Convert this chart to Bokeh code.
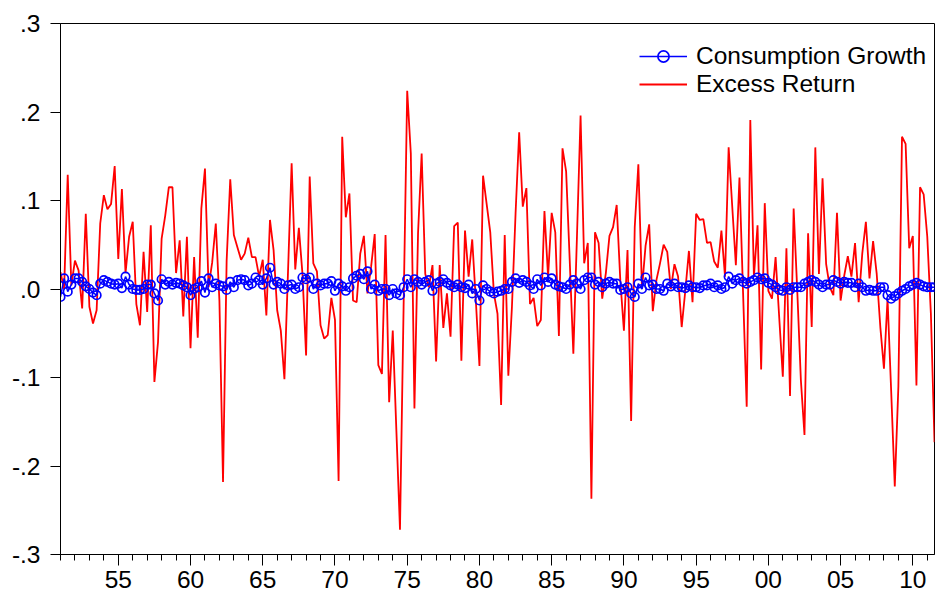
import numpy as np
from bokeh.plotting import figure
from bokeh.models import (Range1d, FixedTicker, Legend, LegendItem, ColumnDataSource)
from bokeh.embed import file_html
from bokeh.resources import INLINE

# Quarterly observations, 1951Q1 .. 2011Q3
start_year = 1951
excess_return = [
    0.019, 0.000, 0.129, 0.004, 0.032, 0.021, -0.022, 0.085, -0.020, -0.039,
    -0.024, 0.074, 0.106, 0.090, 0.096, 0.139, 0.034, 0.113, 0.018, 0.059,
    0.076, -0.017, -0.041, 0.042, -0.026, 0.072, -0.105, -0.060, 0.057, 0.083,
    0.115, 0.115, 0.018, 0.055, -0.031, 0.059, -0.067, 0.036, -0.055, 0.091,
    0.136, 0.002, 0.030, 0.074, -0.013, -0.218, 0.032, 0.124, 0.061, 0.047,
    0.033, 0.040, 0.058, 0.036, 0.036, 0.014, 0.033, -0.030, 0.078, 0.044,
    -0.024, -0.047, -0.102, 0.020, 0.142, 0.022, 0.069, 0.017, -0.075, 0.127,
    0.029, 0.020, -0.041, -0.056, -0.052, -0.010, -0.035, -0.217, 0.172, 0.081,
    0.108, -0.013, -0.015, 0.040, 0.060, -0.005, 0.025, 0.062, -0.086, -0.096,
    0.061, -0.128, -0.047, -0.160, -0.272, -0.020, 0.224, 0.153, -0.135, 0.063,
    0.153, 0.017, 0.002, 0.027, -0.082, 0.027, -0.044, -0.005, -0.054, 0.071,
    0.075, -0.081, 0.066, 0.014, 0.056, -0.013, -0.087, 0.128, 0.096, 0.064,
    -0.005, -0.028, -0.131, 0.061, -0.098, -0.020, 0.085, 0.177, 0.093, 0.114,
    -0.017, -0.010, -0.042, -0.035, 0.088, 0.014, 0.086, 0.064, -0.053, 0.159,
    0.133, 0.032, -0.073, 0.059, 0.196, 0.029, 0.052, -0.237, 0.064, 0.052,
    -0.011, 0.018, 0.060, 0.070, 0.095, 0.010, -0.047, 0.044, -0.149, 0.070,
    0.141, 0.000, 0.049, 0.073, -0.025, 0.010, 0.029, 0.050, 0.042, 0.000,
    0.028, 0.014, -0.043, -0.002, 0.043, -0.015, 0.085, 0.078, 0.079, 0.052,
    0.053, 0.031, 0.024, 0.066, 0.014, 0.160, 0.093, 0.027, 0.126, -0.005,
    -0.133, 0.191, 0.014, 0.072, -0.091, 0.097, -0.002, -0.011, 0.036, -0.032,
    -0.099, 0.046, -0.121, 0.091, -0.002, -0.103, -0.165, 0.063, -0.043, 0.160,
    0.017, 0.125, 0.028, 0.002, -0.007, 0.086, -0.013, 0.015, 0.037, 0.014,
    0.052, -0.015, 0.040, 0.076, 0.012, 0.054, 0.017, -0.043, -0.090, -0.011,
    -0.115, -0.223, -0.110, 0.172, 0.164, 0.046, 0.060, -0.109, 0.115, 0.107,
    0.059, -0.028, -0.173,
]
consumption_growth = [
    -0.009, 0.012, -0.003, 0.005, 0.012, 0.012, 0.008, 0.003, 0.000, -0.004,
    -0.007, 0.006, 0.010, 0.008, 0.006, 0.005, 0.006, 0.001, 0.014, 0.005,
    0.000, -0.001, -0.001, 0.000, 0.005, 0.005, -0.005, -0.013, 0.011, 0.005,
    0.008, 0.005, 0.007, 0.006, 0.004, 0.002, -0.007, 0.000, 0.002, 0.009,
    -0.004, 0.012, 0.002, 0.006, 0.004, 0.003, -0.001, 0.008, 0.002, 0.010,
    0.011, 0.010, 0.004, 0.006, 0.013, 0.010, 0.005, 0.012, 0.024, 0.005,
    0.008, 0.006, 0.000, 0.004, 0.005, 0.000, 0.002, 0.013, 0.011, 0.013,
    0.000, 0.006, 0.004, 0.006, 0.006, 0.009, -0.002, 0.006, 0.003, -0.002,
    0.002, 0.012, 0.015, 0.017, 0.011, 0.020, 0.000, 0.005, -0.002, 0.000,
    0.000, -0.007, 0.000, -0.005, -0.007, 0.002, 0.011, 0.002, 0.011, 0.008,
    0.005, 0.008, 0.010, -0.002, 0.006, 0.008, 0.011, 0.007, 0.004, 0.002,
    0.005, 0.002, 0.001, 0.005, -0.005, 0.000, -0.013, 0.004, 0.000, -0.003,
    -0.005, -0.003, -0.002, 0.000, 0.000, 0.008, 0.012, 0.007, 0.010, 0.008,
    0.004, 0.000, 0.011, 0.004, 0.013, 0.008, 0.012, 0.005, 0.003, 0.002,
    0.000, 0.005, 0.010, 0.006, 0.000, 0.010, 0.013, 0.013, 0.005, 0.008,
    0.002, 0.006, 0.008, 0.006, 0.006, -0.001, 0.000, 0.002, -0.005, -0.009,
    0.006, 0.000, 0.013, 0.004, 0.005, 0.000, 0.000, -0.002, 0.006, 0.003,
    0.006, 0.002, 0.002, 0.001, 0.004, 0.002, 0.002, 0.001, 0.004, 0.004,
    0.006, 0.002, 0.004, 0.000, 0.002, 0.014, 0.006, 0.010, 0.012, 0.008,
    0.006, 0.008, 0.010, 0.013, 0.011, 0.012, 0.007, 0.005, 0.002, -0.001,
    -0.002, 0.002, -0.001, 0.002, 0.002, 0.002, 0.006, 0.008, 0.010, 0.008,
    0.005, 0.002, 0.005, 0.005, 0.010, 0.008, 0.006, 0.008, 0.007, 0.007,
    0.002, 0.006, 0.002, -0.002, -0.001, -0.002, -0.002, 0.002, 0.002, -0.007,
    -0.011, -0.008, -0.005, -0.002, 0.000, 0.003, 0.005, 0.007, 0.005, 0.003,
    0.002, 0.002, 0.002,
]
x_tick_years = [1955, 1960, 1965, 1970, 1975, 1980, 1985, 1990, 1995, 2000, 2005, 2010]
x_tick_labels = ["55", "60", "65", "70", "75", "80", "85", "90", "95", "00", "05", "10"]
x_minor_years = list(range(1951, 2012))
y_ticks = [-0.3, -0.2, -0.1, 0.0, 0.1, 0.2, 0.3]
y_tick_labels = ["-.3", "-.2", "-.1", ".0", ".1", ".2", ".3"]

n = len(excess_return)
t = start_year + np.arange(n) / 4.0
src = ColumnDataSource(dict(t=t, er=excess_return, cg=consumption_growth))

FONT = "Liberation Sans"
FS = "24.5px"

p = figure(width=935, height=597, output_backend="svg", toolbar_location=None,
           x_range=Range1d(start_year, t[-1]), y_range=Range1d(-0.3, 0.3),
           min_border_left=60, min_border_right=1, min_border_top=23, min_border_bottom=43)
p.background_fill_color = "white"
p.border_fill_color = "white"
p.outline_line_color = "black"
p.outline_line_width = 1
p.xgrid.visible = False
p.ygrid.visible = False

r_red = p.line("t", "er", source=src, line_color="#ff0000", line_width=1.8)
r_blue_line = p.line("t", "cg", source=src, line_color="#0000ff", line_width=1.5)
r_blue_pts = p.scatter("t", "cg", source=src, marker="circle", size=8.5,
                       line_color="#0000ff", line_width=1.7, fill_color=None)

xa = p.xaxis[0]
xa.ticker = FixedTicker(ticks=x_tick_years, minor_ticks=x_minor_years)
xa.major_label_overrides = {yr: lab for yr, lab in zip(x_tick_years, x_tick_labels)}
xa.major_tick_in = 0
xa.major_tick_out = 11
xa.minor_tick_in = 0
xa.minor_tick_out = 6
xa.major_label_standoff = 5
xa.axis_line_color = "black"
xa.major_tick_line_color = "black"
xa.minor_tick_line_color = "black"
xa.major_label_text_font = FONT
xa.major_label_text_font_size = FS
xa.major_label_text_color = "black"

ya = p.yaxis[0]
ya.ticker = FixedTicker(ticks=y_ticks, minor_ticks=[])
ya.major_label_overrides = {v: lab for v, lab in zip(y_ticks, y_tick_labels)}
ya.major_tick_in = 0
ya.major_tick_out = 10
ya.minor_tick_line_color = None
ya.major_label_standoff = 10
ya.axis_line_color = "black"
ya.major_tick_line_color = "black"
ya.major_label_text_font = FONT
ya.major_label_text_font_size = FS
ya.major_label_text_color = "black"

legend = Legend(items=[
    LegendItem(label="Consumption Growth", renderers=[r_blue_line, r_blue_pts]),
    LegendItem(label="Excess Return", renderers=[r_red]),
], location=(579, 456))
legend.border_line_color = None
legend.background_fill_alpha = 0
legend.label_text_font = FONT
legend.label_text_font_size = FS
legend.label_text_color = "black"
legend.glyph_width = 48
legend.glyph_height = 28
legend.label_height = 28
legend.label_standoff = 9
legend.spacing = 0
legend.padding = 4
legend.margin = 0
p.add_layout(legend)

open("out.html", "w").write(file_html(p, INLINE))
